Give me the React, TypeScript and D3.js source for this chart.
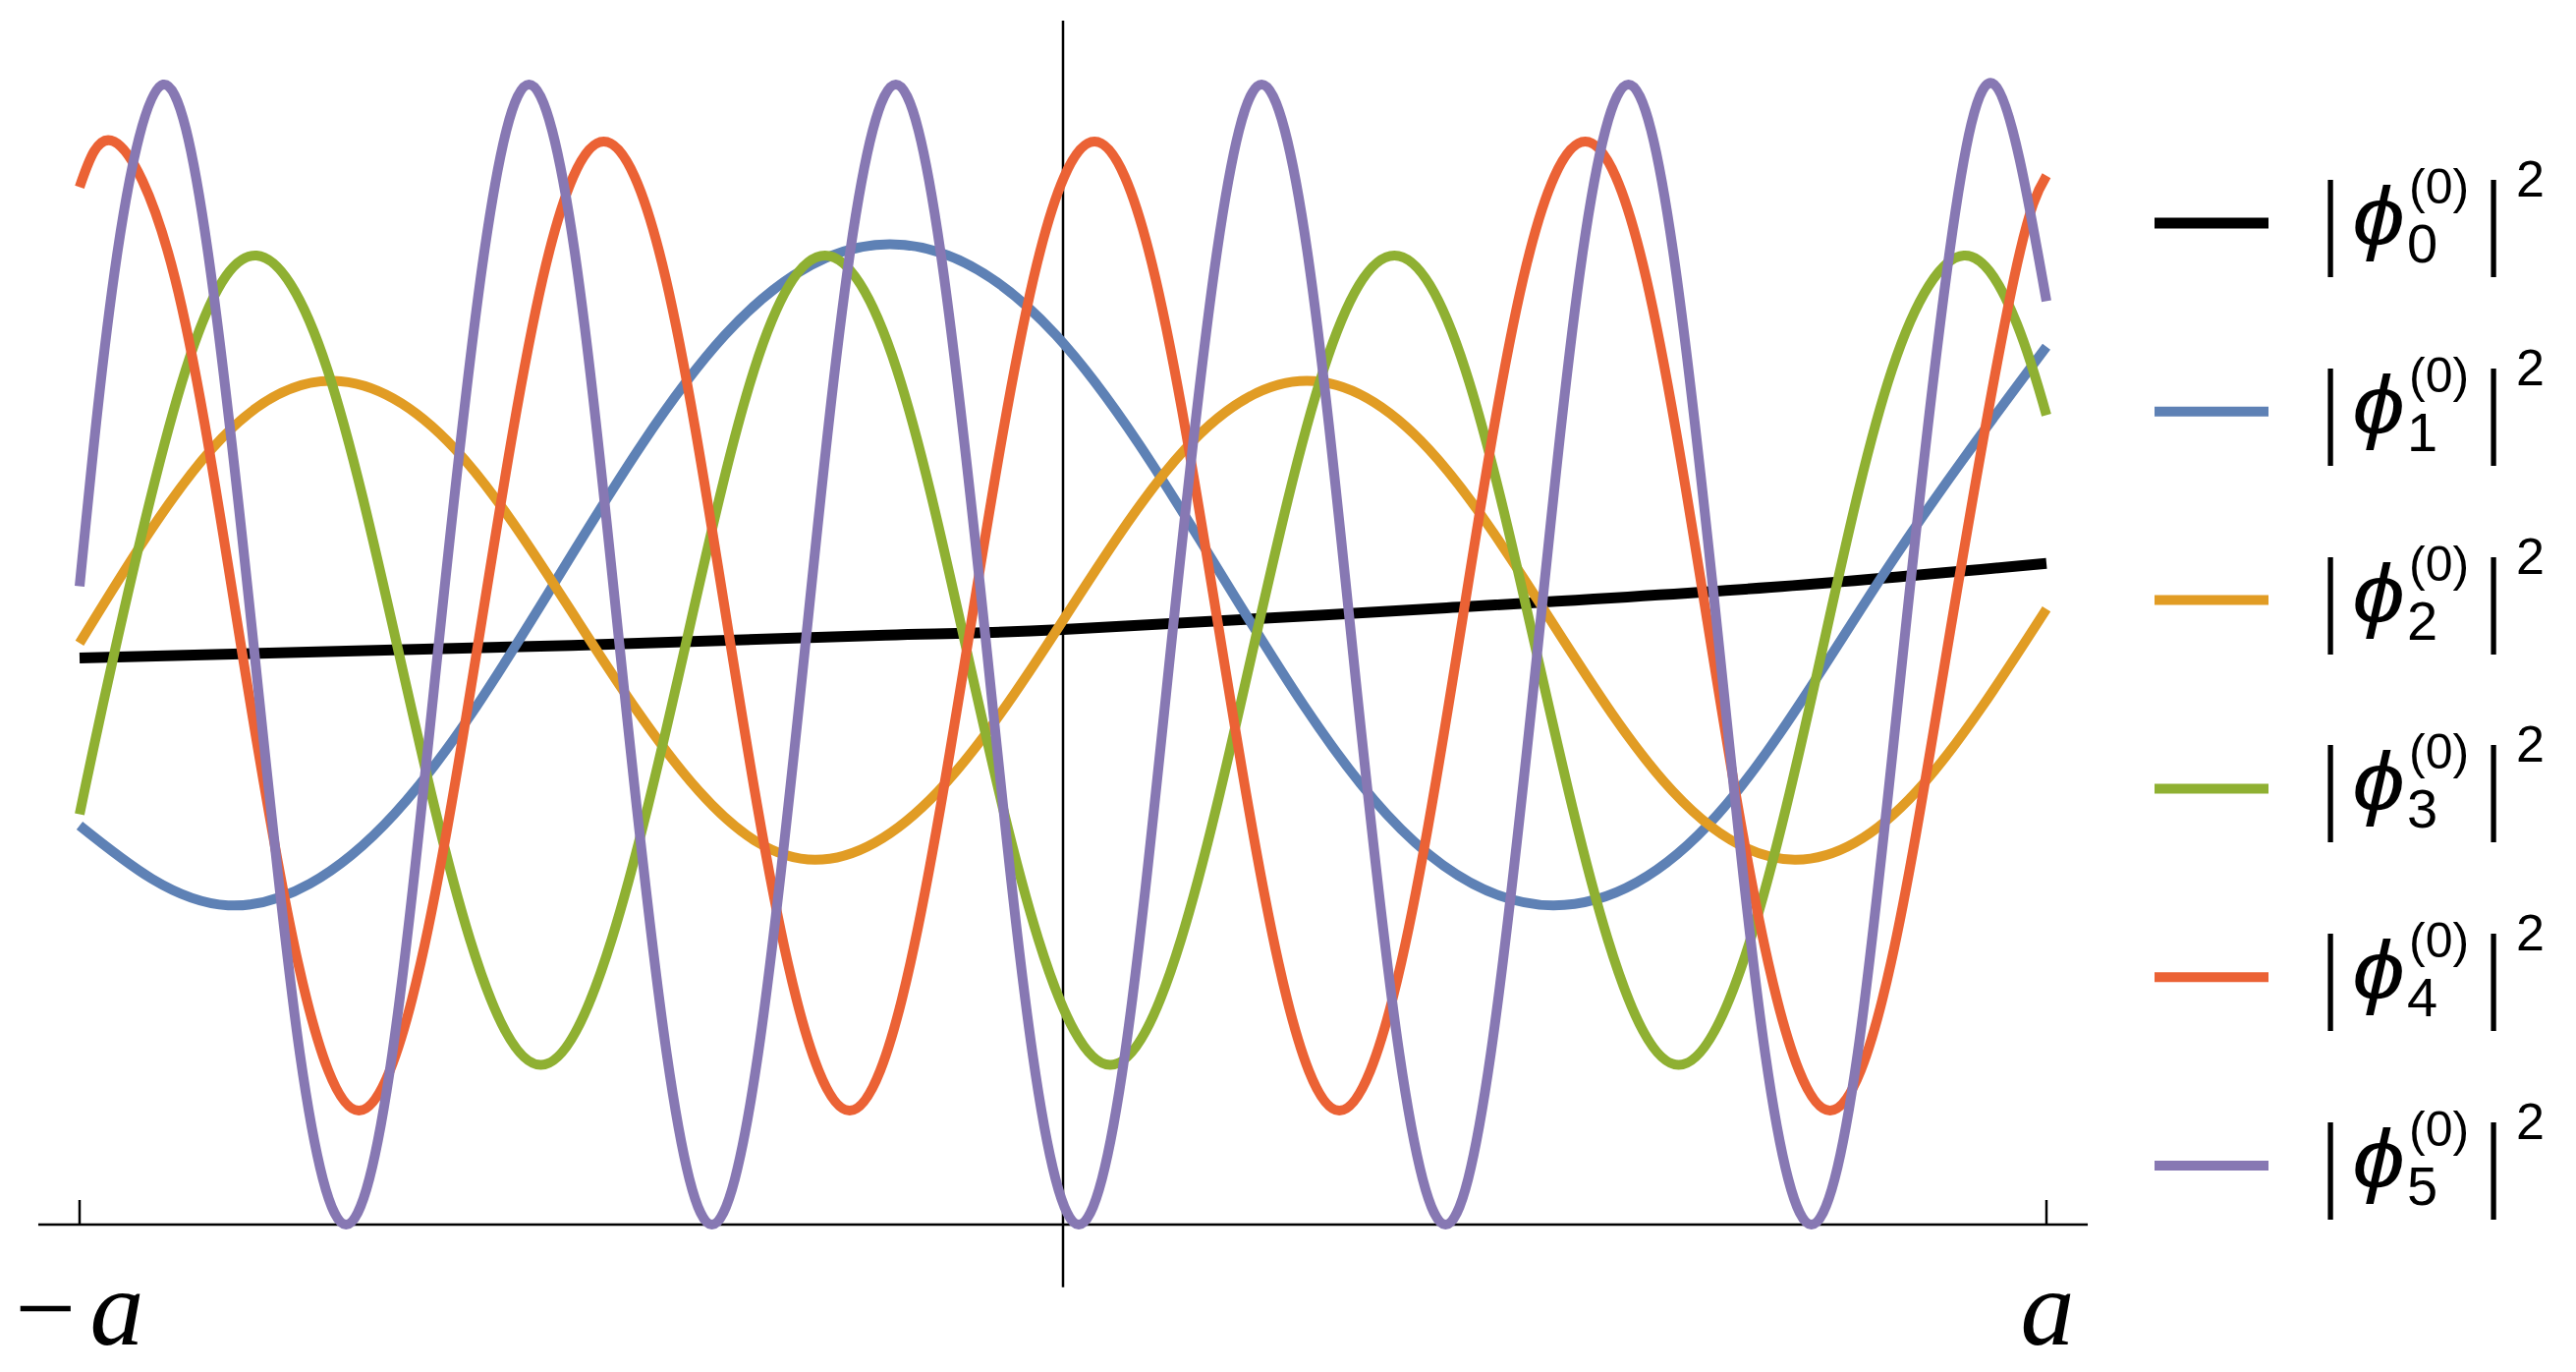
import React from "react";
import * as d3 from "d3";

// |phi_n^(0)|^2, x in units of a, y in units of the tallest peak
const phi0X = [-1.0, -0.5, -0.18, 0.0, 0.39, 0.72, 1.0];
const phi0Y = [0.497, 0.508, 0.517, 0.522, 0.541, 0.559, 0.58];

const phi1X = [-1.0, -0.849, -0.68, -0.512, -0.344, -0.176, -0.007, 0.161, 0.329, 0.498, 0.666, 0.834, 1.0];
const phi1Y = [0.35, 0.28, 0.36, 0.57, 0.78, 0.86, 0.78, 0.57, 0.36, 0.28, 0.36, 0.57, 0.77];

const phi2X = [-1.0, -0.866, -0.742, -0.618, -0.494, -0.37, -0.252, -0.127, 0.0, 0.124, 0.248, 0.372, 0.496, 0.62, 0.744, 0.868, 1.0];
const phi2Y = [0.51, 0.68, 0.74, 0.68, 0.53, 0.38, 0.32, 0.38, 0.53, 0.68, 0.74, 0.68, 0.53, 0.38, 0.32, 0.38, 0.54];

const phi3X = [-1.0, -0.965, -0.892, -0.82, -0.748, -0.675, -0.603, -0.531, -0.459, -0.386, -0.314, -0.242, -0.169, -0.097, -0.025, 0.048, 0.12, 0.192, 0.265, 0.337, 0.409, 0.482, 0.554, 0.626, 0.699, 0.771, 0.843, 0.916, 0.97, 1.0];
const phi3Y = [0.36, 0.5, 0.75, 0.85, 0.75, 0.5, 0.25, 0.14, 0.25, 0.5, 0.75, 0.85, 0.75, 0.5, 0.25, 0.14, 0.25, 0.5, 0.75, 0.85, 0.75, 0.5, 0.25, 0.14, 0.25, 0.5, 0.75, 0.85, 0.79, 0.71];

const phi4X = [-1.0, -0.965, -0.903, -0.84, -0.778, -0.716, -0.653, -0.591, -0.529, -0.467, -0.404, -0.342, -0.28, -0.217, -0.155, -0.093, -0.03, 0.032, 0.094, 0.157, 0.219, 0.281, 0.344, 0.406, 0.468, 0.531, 0.593, 0.655, 0.717, 0.78, 0.842, 0.904, 0.967, 1.0];
const phi4Y = [0.91, 0.95, 0.83, 0.53, 0.23, 0.1, 0.23, 0.53, 0.83, 0.95, 0.83, 0.53, 0.23, 0.1, 0.23, 0.53, 0.83, 0.95, 0.83, 0.53, 0.23, 0.1, 0.23, 0.53, 0.83, 0.95, 0.83, 0.53, 0.23, 0.1, 0.23, 0.53, 0.83, 0.92];

const phi5X = [-1.0, -0.962, -0.915, -0.869, -0.822, -0.776, -0.729, -0.682, -0.636, -0.589, -0.543, -0.496, -0.45, -0.403, -0.357, -0.31, -0.263, -0.217, -0.17, -0.124, -0.077, -0.031, 0.016, 0.063, 0.109, 0.156, 0.202, 0.249, 0.295, 0.342, 0.389, 0.435, 0.482, 0.528, 0.575, 0.621, 0.668, 0.714, 0.761, 0.808, 0.854, 0.901, 0.947, 1.0];
const phi5Y = [0.56, 0.85, 1.0, 0.85, 0.5, 0.15, 0, 0.15, 0.5, 0.85, 1.0, 0.85, 0.5, 0.15, 0, 0.15, 0.5, 0.85, 1.0, 0.85, 0.5, 0.15, 0, 0.15, 0.5, 0.85, 1.0, 0.85, 0.5, 0.15, 0, 0.15, 0.5, 0.85, 1.0, 0.85, 0.5, 0.15, 0, 0.15, 0.5, 0.85, 1.0, 0.81];

const subscripts = ["0", "1", "2", "3", "4", "5"];
const colors = ["#000000", "#5E81B5", "#E19C24", "#8FB032", "#EB6235", "#8778B3"];
const tickValues = [-1, 1];
const tickLabels = ["a", "a"];

const seriesX = [phi0X, phi1X, phi2X, phi3X, phi4X, phi5X];
const seriesY = [phi0Y, phi1Y, phi2Y, phi3Y, phi4Y, phi5Y];

export default function App() {
    const W = 2622, H = 1396;

    var xScale = d3.scaleLinear().domain([-1, 1]).range([81, 2083]);
    var yScale = d3.scaleLinear().domain([0, 1]).range([1246, 86]);

    var line = d3.line<[number, number]>()
        .x((d) => xScale(d[0]))
        .y((d) => yScale(d[1]))
        .curve(d3.curveNatural);

    const sans = "'Liberation Sans', Arial, 'DejaVu Sans', sans-serif";
    const serif = "'Liberation Serif', 'Times New Roman', serif";

    return (
        <svg width={W} height={H} style={{ position: "absolute", left: 0, top: 0, background: "#fff" }}>
            {/* axes */}
            <line x1={xScale(-1.042)} x2={xScale(1.042)} y1={yScale(0)} y2={yScale(0)} stroke="#000" strokeWidth={2.5} />
            <line x1={xScale(0)} x2={xScale(0)} y1={yScale(1.056)} y2={yScale(-0.055)} stroke="#000" strokeWidth={2.5} />
            {tickValues.map((t) => (
                <line key={t} x1={xScale(t)} x2={xScale(t)} y1={yScale(0)} y2={yScale(0) - 25} stroke="#000" strokeWidth={2.5} />
            ))}

            {/* curves */}
            {seriesX.map((xs, i) => {
                const pts = xs.map((v, j) => [v, seriesY[i][j]] as [number, number]);
                return (
                    <path key={i} d={line(pts) || ""} fill="none" stroke={colors[i]}
                        strokeWidth={i === 0 ? 11 : 10} strokeLinejoin="round" />
                );
            })}

            {/* tick labels */}
            <text x={46} y={1368} fontFamily={serif} fontSize={110} textAnchor="middle">−</text>
            <text x={xScale(tickValues[0]) + 38} y={1368} fontFamily={serif} fontStyle="italic" fontSize={110} textAnchor="middle">{tickLabels[0]}</text>
            <text x={xScale(tickValues[1]) + 1} y={1368} fontFamily={serif} fontStyle="italic" fontSize={110} textAnchor="middle">{tickLabels[1]}</text>

            {/* legend */}
            {subscripts.map((s, i) => {
                const cy = 227 + i * 191.8;
                return (
                    <g key={s} fontFamily={sans} fill="#000">
                        <line x1={2193} x2={2309} y1={cy} y2={cy} stroke={colors[i]} strokeWidth={i === 0 ? 11 : 10} />
                        <text transform={`translate(2372, ${cy + 33}) scale(1, 1.6)`} fontSize={66} textAnchor="middle">|</text>
                        <text transform={`translate(2421, ${cy + 22}) scale(1.15, 1)`} fontSize={84} fontStyle="italic" textAnchor="middle">ϕ</text>
                        <text x={2450} y={cy + 40} fontSize={56}>{s}</text>
                        <text x={2452} y={cy - 20} fontSize={50}>(0)</text>
                        <text transform={`translate(2538, ${cy + 33}) scale(1, 1.6)`} fontSize={66} textAnchor="middle">|</text>
                        <text x={2561} y={cy - 27} fontSize={52}>2</text>
                    </g>
                );
            })}
        </svg>
    );
}
